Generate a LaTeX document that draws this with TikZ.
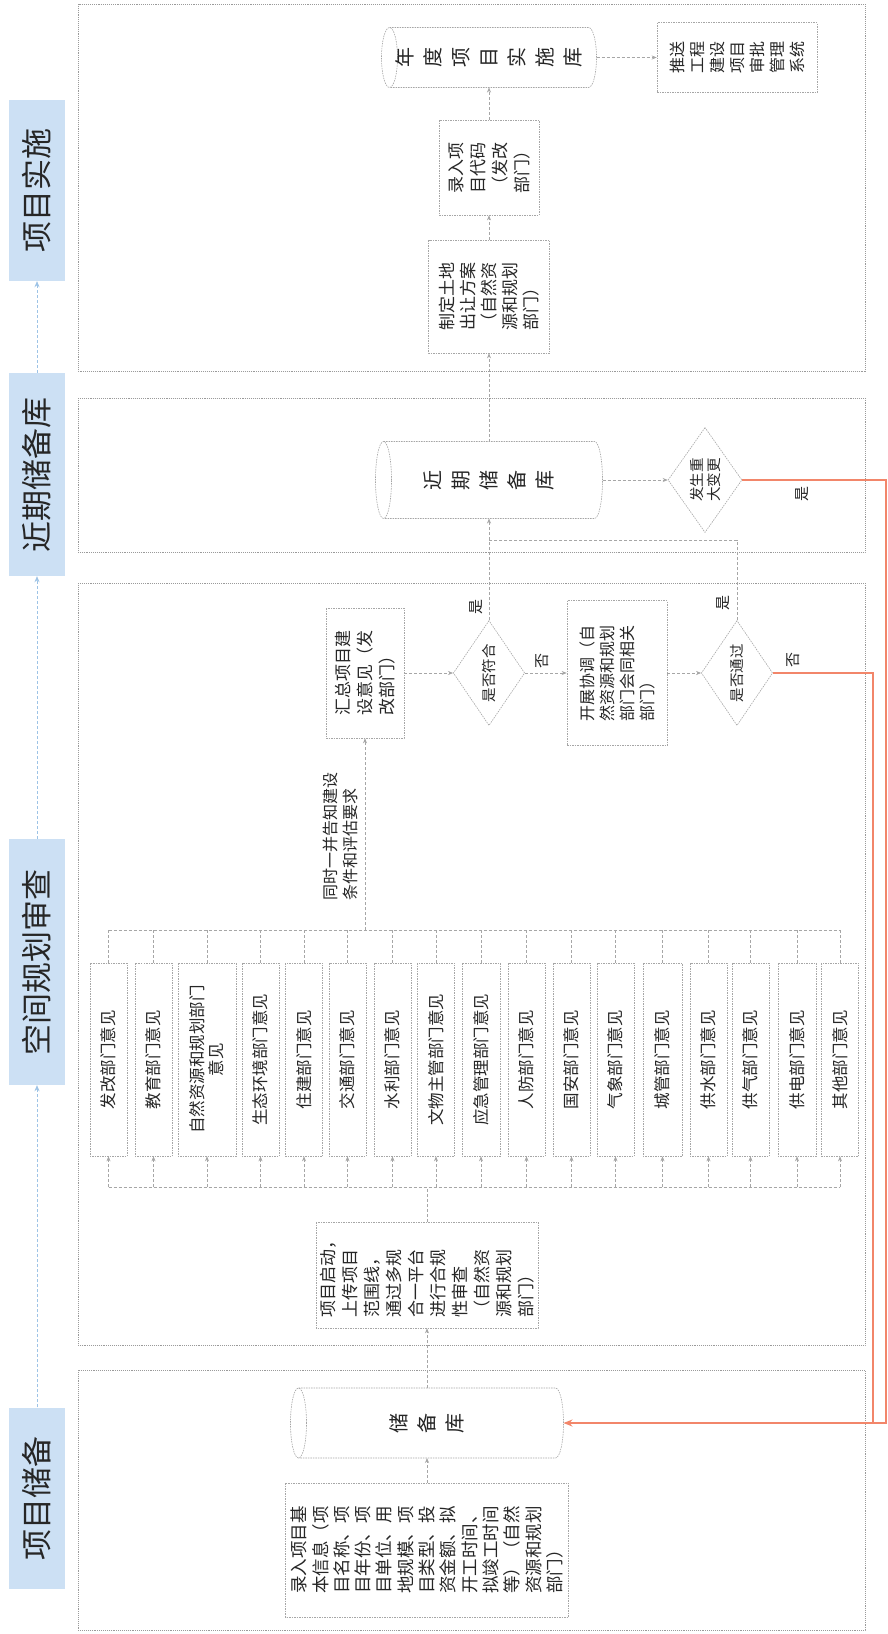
\documentclass[tikz,border=0pt]{standalone}
\usepackage{fontspec}
\setmainfont{Noto Sans CJK SC}
\usetikzlibrary{arrows.meta,shapes.geometric}
\definecolor{stagefill}{HTML}{CCE0F4}
\definecolor{stagearr}{HTML}{9DC3E6}
\definecolor{lineg}{HTML}{A6A6A6}
\definecolor{panelg}{HTML}{9A9A9A}
\definecolor{orangeln}{HTML}{F2866A}
\definecolor{txt}{HTML}{262626}
\newcommand\fs[2]{\fontsize{#1}{#2}\selectfont}
\newcommand\dbcyl[6]{%
 \node[minimum width=#4pt, minimum height=#5pt, inner sep=0pt, outer sep=0pt] (#1) at (#2,-#3) {};
 \draw[boxline] ({#2-#4/2+8},{-#3+#5/2}) -- ({#2+#4/2-8},{-#3+#5/2}) arc[start angle=90, end angle=-90, x radius=8, y radius=#5/2] -- ({#2-#4/2+8},{-#3-#5/2});
 \draw[boxline] ({#2-#4/2+8},-#3) ellipse [x radius=8, y radius=#5/2];
 \node[cyltext] at (#1) {#6};
}
\begin{document}
\begin{tikzpicture}[x=1pt,y=1pt,
 panel/.style={draw=panelg, densely dotted, line width=0.9pt},
 boxline/.style={draw=lineg, dash pattern=on 1.5pt off 1pt, line width=0.6pt},
 box/.style={boxline, rotate=90, align=left, inner sep=0pt, text=txt},
 dept/.style={box, align=center, minimum width=193pt, font=\fs{16.5}{19}},
 dia/.style={boxline, diamond, rotate=90, inner sep=0pt, align=center, text=txt, font=\fs{14.5}{17}},
 conn/.style={draw=lineg, densely dashed, line width=0.6pt, -{Stealth[length=5pt,width=4pt]}},
 plain/.style={draw=lineg, densely dashed, line width=0.6pt},
 cyltext/.style={rotate=90, align=center, text=txt, font=\fs{20}{28}},
 lab/.style={rotate=90, font=\fs{15}{18}, text=txt, inner sep=1pt},
 stage/.style={fill=stagefill, rotate=90, minimum height=56pt, inner sep=0pt, text=txt, font=\fs{31}{34}},
 stagelink/.style={draw=stagearr, densely dashed, line width=0.7pt, -{Stealth[length=6pt,width=5pt]}},
 orangepath/.style={draw=orangeln, line width=1.2pt}
]
\useasboundingbox (0,0) rectangle (888,-1634);
\fill[white] (0,0) rectangle (888,-1634);

% stage labels
\node[stage, minimum width=181pt] (L1) at (37,-190.5) {项目实施};
\node[stage, minimum width=203pt] (L2) at (37,-474.5) {近期储备库};
\node[stage, minimum width=246pt] (L3) at (37,-962) {空间规划审查};
\node[stage, minimum width=181pt] (L4) at (37,-1498) {项目储备};
\draw[stagelink] (L4.east) -- (L3.west);
\draw[stagelink] (L3.east) -- (L2.west);
\draw[stagelink] (L2.east) -- (L1.west);

% panels
\draw[panel] (78,-4) rectangle (865,-371);
\draw[panel] (78,-398) rectangle (865,-552);
\draw[panel] (78,-583) rectangle (865,-1345);
\draw[panel] (78,-1370) rectangle (865,-1630);

% panel 1
\dbcyl{annual}{489}{57.5}{215}{60}{年\\度\\项\\目\\实\\施\\库}
\node[box, align=center, minimum width=70pt, minimum height=160pt, font=\fs{16}{20}] (push) at (737,-57.5) {推送\\工程\\建设\\项目\\审批\\管理\\系统};
\node[box, minimum width=95pt, minimum height=100pt, font=\fs{17}{22}] (code) at (489,-167.5) {录入项\\目代码\\（发改\\部门）};
\node[box, minimum width=113pt, minimum height=121pt, font=\fs{17}{21}] (land) at (489,-296.5) {制定土地\\出让方案\\（自然资\\源和规划\\部门）};
\draw[conn] (land.east) -- (code.west);
\draw[conn] (code.east) -- (annual.south);
\draw[conn] (annual.east) -- (push.north);

% panel 2
\dbcyl{near}{489}{480}{227}{77}{近\\期\\储\\备\\库}
\node[dia, minimum width=105pt, minimum height=65pt] (change) at (705,-480) {发生重\\大变更};
\draw[conn] (near.north) -- (land.west);
\draw[conn] (near.east) -- (change.north);
\node[lab] (yes3) at (802,-494) {是};

% panel 3
\node[box, minimum width=130pt, minimum height=78pt, font=\fs{17}{22}] (summary) at (365,-673) {汇总项目建\\设意见（发\\改部门）};
\node[dia, minimum width=105pt, minimum height=66pt] (d1) at (489,-673) {是否符合};
\node[box, minimum width=145pt, minimum height=100pt, font=\fs{16}{20}] (coord) at (617,-673) {开展协调（自\\然资源和规划\\部门会同相关\\部门）};
\node[dia, minimum width=105pt, minimum height=66pt] (d2) at (737,-673) {是否通过};
\node[lab] (yes1) at (476,-607) {是};
\node[lab] (no1) at (542,-661) {否};
\node[lab] (yes2) at (723,-603) {是};
\node[lab] (no2) at (793,-660) {否};
\node[rotate=90, align=left, text=txt, font=\fs{16}{20}, inner sep=0pt] (note) at (340,-836) {同时一并告知建设\\条件和评估要求};
\coordinate (merge) at (489,-540);
\draw[conn] (summary.south) -- (d1.north);
\draw[conn] (d1.south) -- (coord.north);
\draw[conn] (coord.south) -- (d2.north);
\draw[conn] (d1.east) -- (near.south);
\draw[plain] (d2.east) |- (merge);

\coordinate (busT) at (365,-930);
\coordinate (busB) at (427,-1187);
\coordinate (busTL) at (108.5,-930);
\coordinate (busTR) at (840,-930);
\coordinate (busBL) at (108.5,-1187);
\coordinate (busBR) at (840,-1187);
\draw[plain] (busTL) -- (busTR);
\draw[plain] (busBL) -- (busBR);
\draw[conn] (busT) -- (summary.west);

\foreach \n/\x/\w/\t in {
 1/108.5/37pt/发改部门意见,
 2/153.5/37pt/教育部门意见,
 3/207/58pt/{自然资源和规划部门\\意见},
 4/260.5/37pt/生态环境部门意见,
 5/304/37pt/住建部门意见,
 6/347.5/37pt/交通部门意见,
 7/392.5/37pt/水利部门意见,
 8/436/37pt/文物主管部门意见,
 9/481/38pt/应急管理部门意见,
 10/526.5/37pt/人防部门意见,
 11/571.5/37pt/国安部门意见,
 12/615.5/37pt/气象部门意见,
 13/662.5/39pt/城管部门意见,
 14/708.5/37pt/供水部门意见,
 15/750.5/37pt/供气部门意见,
 16/797/38pt/供电部门意见,
 17/840/37pt/其他部门意见}{
 \node[dept, minimum height=\w] (dep\n) at (\x,-1059.5) {\t};
 \draw[plain] (dep\n.east) -- (dep\n.east |- busT);
 \draw[conn] (dep\n.west |- busB) -- (dep\n.west);
}

\node[box, minimum width=106pt, minimum height=222pt, font=\fs{17}{22}] (start) at (427,-1275) {项目启动，\\上传项目\\范围线，\\通过多规\\合一平台\\进行合规\\性审查\\（自然资\\源和规划\\部门）};
\draw[plain] (start.east) -- (start.east |- busB);

% panel 4
\dbcyl{store}{427}{1423}{273}{70}{储\\备\\库}
\node[box, minimum width=134pt, minimum height=283pt, font=\fs{17.5}{21.3}] (entry) at (427,-1550) {录入项目基\\本信息（项\\目名称、项\\目年份、项\\目单位、用\\地规模、项\\目类型、投\\资金额、拟\\开工时间、\\拟竣工时间\\等）（自然\\资源和规划\\部门）};
\draw[conn] (entry.east) -- (store.south);
\draw[conn] (store.north) -- (start.west);

% orange return paths
\coordinate (oa) at (886,-480);
\coordinate (ob) at (886,-1423);
\coordinate (oc) at (873,-673);
\coordinate (od) at (873,-1423);
\draw[orangepath, -{Stealth[length=9pt,width=7pt]}] (change.south) -- (oa) -- (ob) -- (store.east);
\draw[orangepath] (d2.south) -- (oc) -- (od);
\end{tikzpicture}
\end{document}
